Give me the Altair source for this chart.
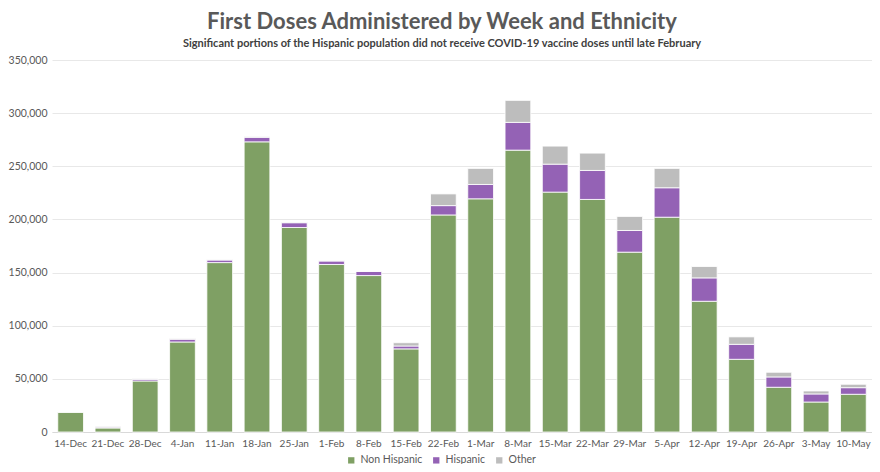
import altair as alt
import pandas as pd

weeks = ["14-Dec", "21-Dec", "28-Dec", "4-Jan", "11-Jan", "18-Jan", "25-Jan", "1-Feb",
         "8-Feb", "15-Feb", "22-Feb", "1-Mar", "8-Mar", "15-Mar", "22-Mar", "29-Mar",
         "5-Apr", "12-Apr", "19-Apr", "26-Apr", "3-May", "10-May"]
non_hispanic = [18800, 3800, 48000, 84700, 159400, 273000, 192400, 157600, 147200, 78200,
                204200, 219400, 265200, 225700, 218800, 169200, 202100, 123000, 68400,
                42100, 28200, 35500]
hispanic = [0, 800, 1600, 2600, 2400, 4300, 4500, 3300, 3800, 2700, 8800, 13500, 26100,
            26300, 27300, 20400, 27700, 22000, 14100, 9700, 7600, 6200]
other = [0, 700, 600, 600, 500, 500, 500, 400, 300, 3100, 11000, 15100, 20700, 17000,
         16300, 13200, 18200, 10700, 7000, 4400, 2800, 3200]

groups = ["Non Hispanic", "Hispanic", "Other"]
colors = ["#7fa064", "#9462b5", "#bdbdbd"]

rows = []
for i, w in enumerate(weeks):
    for k, (g, vals) in enumerate(zip(groups, [non_hispanic, hispanic, other])):
        rows.append({"week": w, "group": g, "doses": vals[i], "ord": k})
df = pd.DataFrame(rows)

FONT = "Lato"
GREY = "#595959"

chart = alt.Chart(df).mark_bar(stroke="white", strokeWidth=1, strokeOpacity=0.8).encode(
    x=alt.X("week:N", sort=weeks, title=None,
            scale=alt.Scale(paddingInner=0.31, paddingOuter=0.155),
            axis=alt.Axis(labelAngle=0, labelFontSize=10, labelColor=GREY, labelFont=FONT,
                          ticks=False, domainColor="#d9d9d9", labelPadding=6, grid=False)),
    y=alt.Y("doses:Q", title=None, stack="zero",
            scale=alt.Scale(domain=[0, 350000], nice=False),
            axis=alt.Axis(values=[0, 50000, 100000, 150000, 200000, 250000, 300000, 350000],
                          format=",d", labelFontSize=10.5, labelColor=GREY, labelFont=FONT,
                          ticks=False, domain=False, gridColor="#e8e8e8", labelPadding=5)),
    color=alt.Color("group:N", sort=groups,
                    scale=alt.Scale(domain=groups, range=colors),
                    legend=alt.Legend(title=None, orient="none", direction="horizontal",
                                      legendX=294, legendY=395, symbolType="square",
                                      symbolSize=40, symbolStrokeWidth=0, labelFontSize=10.5,
                                      labelFont=FONT, labelColor=GREY, columnPadding=8,
                                      labelOffset=4)),
    order=alt.Order("ord:Q", sort="ascending"),
).properties(
    width=820, height=372,
    padding={"left": 44, "top": 52, "right": 0, "bottom": 32},
    autosize=alt.AutoSizeParams(type="none"),
    title=alt.TitleParams(
        text="First Doses Administered by Week and Ethnicity",
        subtitle="Significant portions of the Hispanic population did not receive COVID-19 vaccine doses until late February",
        font=FONT, fontSize=22, fontWeight="bold", color=GREY,
        subtitleFont=FONT, subtitleFontSize=11, subtitleFontWeight="bold",
        subtitleColor="#404040", anchor="middle", dx=-20, offset=5, subtitlePadding=4),
).configure_view(stroke=None)

chart.save("out.html", embed_options={"renderer": "svg", "actions": False})
